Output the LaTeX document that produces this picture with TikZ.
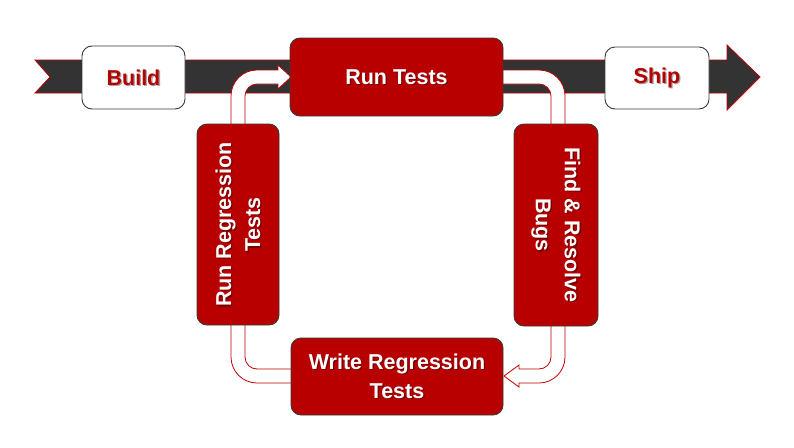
\documentclass[tikz,border=0pt]{standalone}
\usepackage{fontspec}
\setmainfont{Liberation Sans}
\definecolor{boxred}{HTML}{B80000}
\definecolor{boxborder}{HTML}{3A3A3A}
\definecolor{bandgray}{HTML}{333333}
\definecolor{linered}{HTML}{C00000}
\definecolor{txtred}{HTML}{B40000}
\tikzset{
  redbox/.style={draw=boxborder, fill=boxred, rounded corners=10pt, line width=0.9pt, inner sep=0pt},
  whitebox/.style={draw=boxborder, fill=white, rounded corners=10pt, line width=0.9pt, inner sep=0pt},
  conn/.style={draw=linered, fill=white, line width=0.8pt},
  band/.style={draw=linered, fill=bandgray, line width=0.8pt},
  lbl/.style={font=\bfseries\fontsize{21.5}{29}\selectfont, align=center, inner sep=0pt},
  lblshadow/.style={lbl, text=black, opacity=0.35},
}
\newcommand\mylabel[4]{%
  \node[lblshadow,#2] (#1-s) at ([shift={(1.3pt,-1.3pt)}]#1) {#4};
  \node[lbl,#2,text=#3] (#1-t) at (#1) {#4};
}
\begin{document}
\begin{tikzpicture}[x=1pt,y=1pt]
\useasboundingbox (0,0) rectangle (794,-447);
% big band arrow
\path[band] (35,-60) -- (727,-60) -- (727,-45) -- (760,-77) -- (727,-110) -- (727,-93)
  -- (35,-93) -- (50,-77) -- cycle;
% connectors
\path[conn] (231,-130) -- (231,-96) arc[start angle=180,end angle=90,radius=26]
  -- (278,-70) -- (278,-65) -- (291,-77) -- (278,-89) -- (278,-84) -- (257,-84)
  arc[start angle=90,end angle=180,radius=12] -- (245,-130) -- cycle;
\path[conn] (498,-70) -- (539,-70) arc[start angle=90,end angle=0,radius=26]
  -- (565,-130) -- (551,-130) -- (551,-96) arc[start angle=0,end angle=90,radius=12]
  -- (498,-84) -- cycle;
\path[conn] (551,-320) -- (551,-357) arc[start angle=0,end angle=-90,radius=12]
  -- (519,-369) -- (519,-365) -- (504,-376) -- (519,-387) -- (519,-383) -- (539,-383)
  arc[start angle=-90,end angle=0,radius=26] -- (565,-320) -- cycle;
\path[conn] (231,-320) -- (231,-357) arc[start angle=180,end angle=270,radius=26]
  -- (296,-383) -- (296,-369) -- (257,-369) arc[start angle=270,end angle=180,radius=12]
  -- (245,-320) -- cycle;
% boxes
\node[whitebox, minimum width=103pt, minimum height=63pt] (build) at (133.5,-77.5) {};
\node[whitebox, minimum width=104pt, minimum height=62pt] (ship) at (657,-78) {};
\node[redbox, minimum width=213pt, minimum height=78pt] (run) at (396.5,-77) {};
\node[redbox, minimum width=82pt, minimum height=201pt] (regr) at (238,-224.5) {};
\node[redbox, minimum width=84pt, minimum height=202pt] (find) at (556,-225) {};
\node[redbox, minimum width=212pt, minimum height=77pt] (write) at (397,-376.5) {};
% labels
\mylabel{build}{}{txtred}{Build}
\mylabel{ship}{}{txtred}{Ship}
\mylabel{run}{}{white}{Run Tests}
\mylabel{regr}{rotate=90}{white}{Run Regression\\Tests}
\mylabel{find}{rotate=-90}{white}{Find \& Resolve\\Bugs}
\mylabel{write}{}{white}{Write Regression\\Tests}
\end{tikzpicture}
\end{document}
